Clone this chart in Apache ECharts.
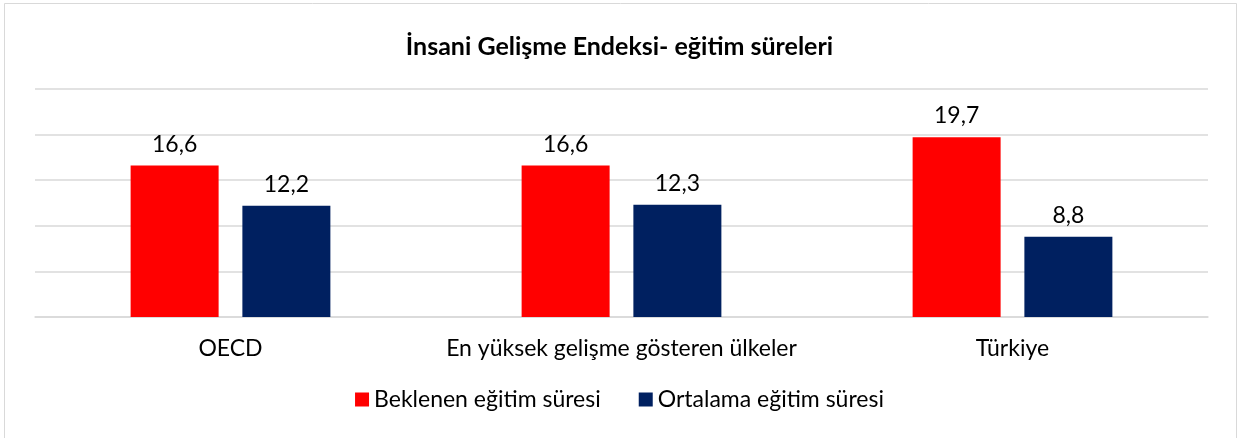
<!DOCTYPE html>
<html lang="tr">
<head>
    <meta charset="UTF-8">
    <title>İnsani Gelişme Endeksi</title>
    <script src="https://cdn.jsdelivr.net/npm/echarts@6/dist/echarts.min.js"></script>
    <style>
        html, body { margin: 0; padding: 0; background: #fff; }
        #main { width: 1239px; height: 438px; }
    </style>
</head>
<body>
    <div id="main"></div>
    <script>
        var categories = ['OECD', 'En yüksek gelişme gösteren ülkeler', 'Türkiye'];
        var beklenen = [16.6, 16.6, 19.7];
        var ortalama = [12.2, 12.3, 8.8];
        var seriesNames = ['Beklenen eğitim süresi', 'Ortalama eğitim süresi'];

        var font = 'Lato, "Open Sans", sans-serif';
        var fmt = function (p) { return String(p.value).replace('.', ','); };

        var myChart = echarts.init(document.getElementById('main'));
        var option = {
            backgroundColor: '#ffffff',
            animation: false,
            title: {
                text: 'İnsani Gelişme Endeksi- eğitim süreleri',
                left: 'center',
                top: 29,
                textStyle: { fontFamily: font, fontSize: 25, fontWeight: 'bold', color: '#000' }
            },
            graphic: [{
                type: 'rect',
                shape: { x: 4.5, y: 3.5, width: 1232, height: 440 },
                style: { fill: 'none', stroke: '#d9d9d9', lineWidth: 1 },
                silent: true
            }],
            legend: {
                data: seriesNames,
                bottom: 22,
                left: 'center',
                icon: 'rect',
                itemWidth: 14,
                itemHeight: 14,
                itemGap: 38,
                textStyle: { fontFamily: font, fontSize: 23, color: '#000' }
            },
            grid: { left: 35, right: 31, top: 89, bottom: 121 },
            xAxis: {
                type: 'category',
                data: categories,
                axisTick: { show: false },
                axisLine: { lineStyle: { color: '#d9d9d9', width: 1.5 } },
                axisLabel: { interval: 0, fontFamily: font, fontSize: 23, color: '#000', margin: 20 }
            },
            yAxis: {
                type: 'value',
                min: 0,
                max: 25,
                interval: 5,
                axisLabel: { show: false },
                axisLine: { show: false },
                axisTick: { show: false },
                splitLine: { lineStyle: { color: '#d9d9d9', width: 1.5 } }
            },
            series: [{
                name: seriesNames[0],
                type: 'bar',
                data: beklenen,
                barWidth: 88,
                barGap: '27%',
                itemStyle: { color: '#ff0000' },
                label: { show: true, position: 'top', distance: 10, formatter: fmt,
                         fontFamily: font, fontSize: 23, color: '#000' }
            }, {
                name: seriesNames[1],
                type: 'bar',
                data: ortalama,
                barWidth: 88,
                itemStyle: { color: '#002060' },
                label: { show: true, position: 'top', distance: 10, formatter: fmt,
                         fontFamily: font, fontSize: 23, color: '#000' }
            }]
        };
        myChart.setOption(option);
    </script>
</body>
</html>
